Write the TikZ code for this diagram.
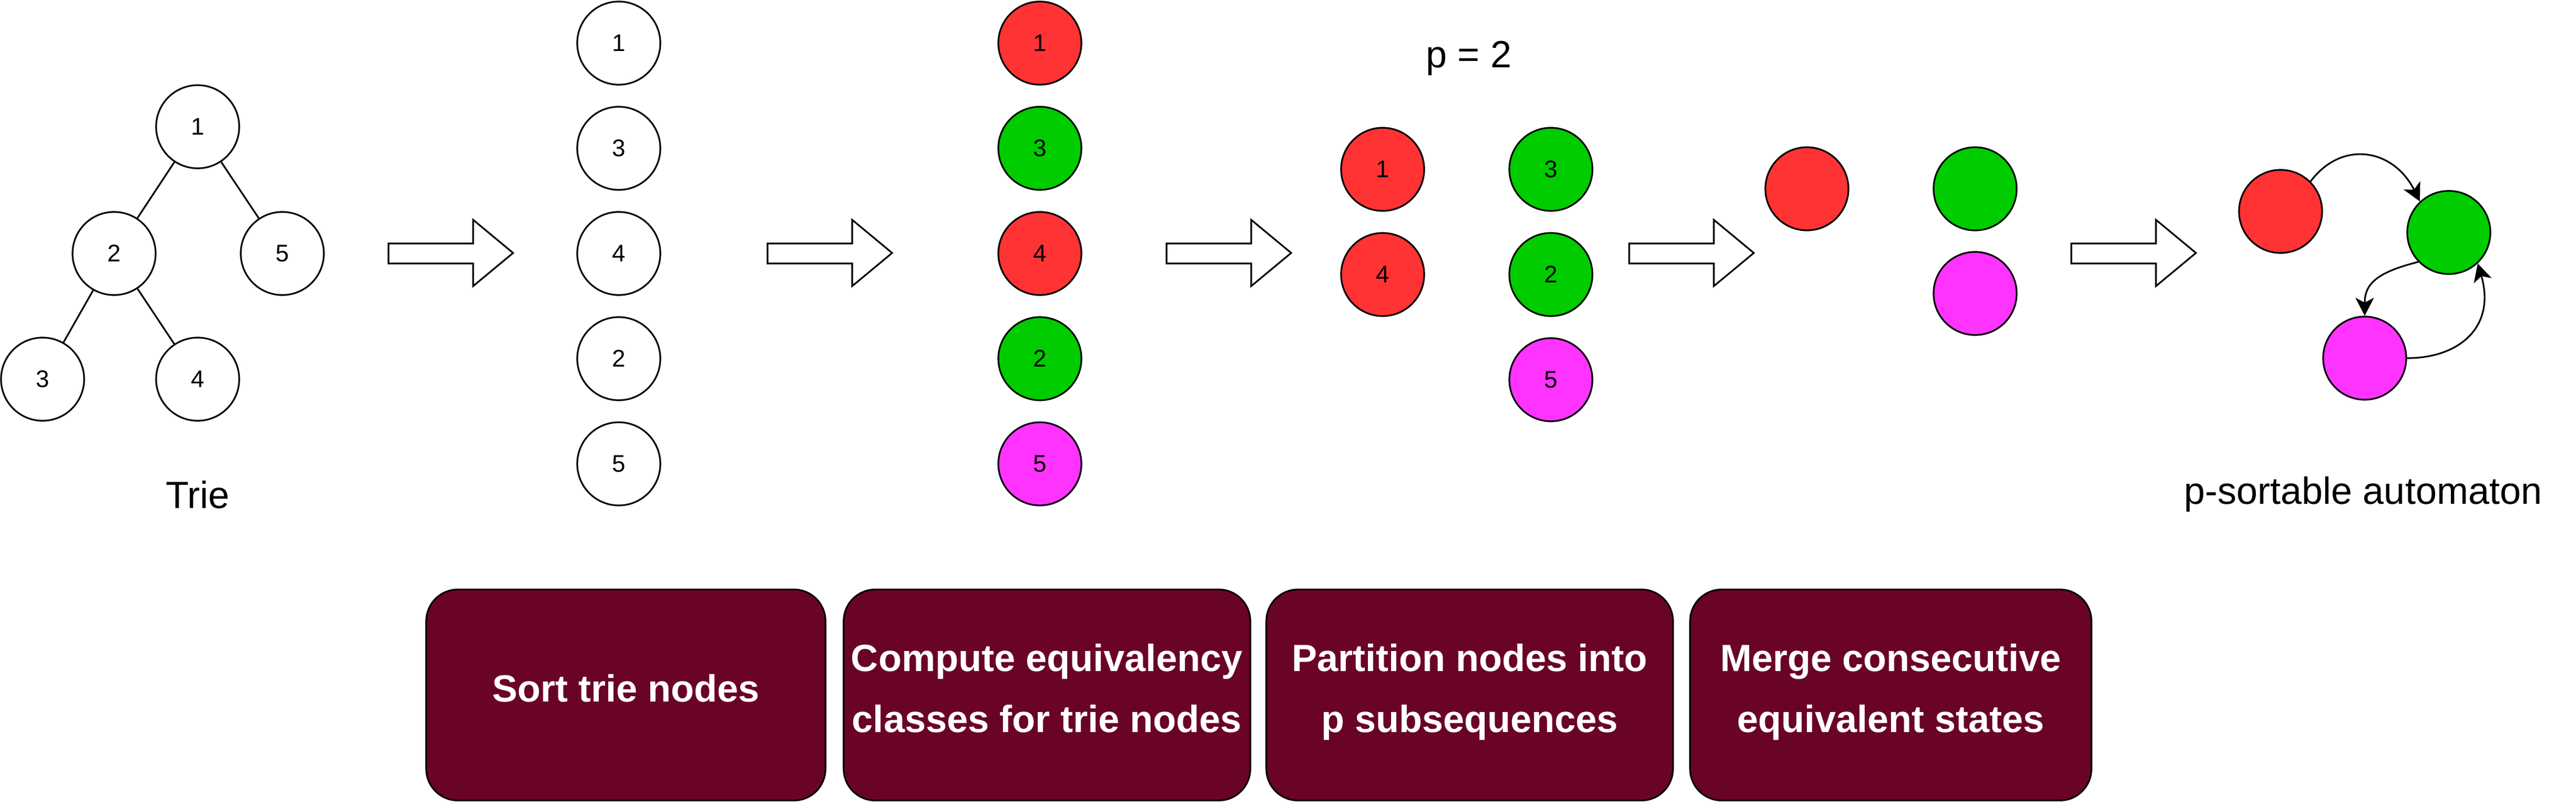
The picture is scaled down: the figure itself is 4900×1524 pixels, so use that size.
\documentclass[tikz,border=0pt]{standalone}
\usepackage{fontspec}
\setmainfont{Liberation Sans}
\usetikzlibrary{arrows.meta}
\definecolor{clsred}{HTML}{FF3333}
\definecolor{clsgreen}{HTML}{00CC00}
\definecolor{clsmag}{HTML}{FF33FF}
\definecolor{stepfill}{RGB}{106,4,38}

\begin{document}
\begin{tikzpicture}[x=0.01cm,y=-0.01cm,line width=0.9pt,
tn/.style={circle,draw,line width=0.9pt,minimum size=1.58cm,inner sep=0pt,font=\fontsize{13}{15}\selectfont},
lbl/.style={font=\fontsize{20.5}{24}\selectfont},
stepbox/.style={draw,fill=stepfill,rounded corners=0.6cm,inner sep=0pt,minimum height=4.01cm,text depth=0.27cm,text=white,align=center,font=\fontsize{20.5}{33}\selectfont\bfseries},
trans/.style={-{Stealth[length=0.34cm,width=0.35cm,inset=0.09cm]},line width=0.9pt}]
\useasboundingbox (0,0) rectangle (4900,1524);
\node[tn] (t1) at (376,241) {1};
\node[tn] (t2) at (217,482) {2};
\node[tn] (t5) at (537,482) {5};
\node[tn] (t3) at (81,721) {3};
\node[tn] (t4) at (376,721) {4};
\draw (t1) -- (t2) (t1) -- (t5) (t2) -- (t3) (t2) -- (t4);
\node[lbl,anchor=base] (trie) at (376,966) {Trie};
\foreach \n [count=\i from 0] in {1,3,4,2,5} {
   \node[tn] (s\n) at (1177,{82+200*\i}) {\n};
}
\foreach \n/\c [count=\i from 0] in %
{1/clsred,3/clsgreen,4/clsred,2/clsgreen,5/clsmag} {
   \node[tn,fill=\c] (e\n) at (1978,{82+200*\i}) {\n};
}
\node[lbl,anchor=base] (pval) at (2794,128) {p = 2};
\node[tn,fill=clsred] (q1) at (2630,322) {1};
\node[tn,fill=clsred] (q4) at (2630,522) {4};
\node[tn,fill=clsgreen] (q3) at (2950,322) {3};
\node[tn,fill=clsgreen] (q2) at (2950,522) {2};
\node[tn,fill=clsmag] (q5) at (2950,722) {5};
\node[tn,fill=clsred] (mr) at (3437,359) {};
\node[tn,fill=clsgreen] (mg) at (3757,359) {};
\node[tn,fill=clsmag] (mm) at (3757,558) {};
\node[tn,fill=clsred] (ar) at (4338,402) {};
\node[tn,fill=clsgreen] (ag) at (4658,442) {};
\node[tn,fill=clsmag] (am) at (4498,681) {};
\draw[trans] (ar.45) .. controls +(60,-80) and +(-50,-100) .. (ag.133);
\draw[trans] (ag.224) .. controls +(-80,20) and +(0,-60) .. (am.north);
\draw[trans] (am.east) .. controls +(100,0) and +(35,120) .. (ag.313);
\node[lbl,anchor=base] (auto) at (4495,958) {p-sortable automaton};
\foreach \x in {739,1460,2219,3099,3940} {
   \draw (\x,463) -- ++(161,0) -- ++(0,-45) -- ++(76,63) -- ++(-76,63) -- ++(0,-43) -- ++(-161,0) -- cycle;
}
\node[stepbox,minimum width=7.59cm] (b1) at (1190.5,1321.5) {Sort trie nodes};
\node[stepbox,minimum width=7.73cm] (b2) at (1991.5,1321.5) {Compute equivalency\\classes for trie nodes};
\node[stepbox,minimum width=7.73cm] (b3) at (2795.5,1321.5) {Partition nodes into\\p subsequences};
\node[stepbox,minimum width=7.63cm] (b4) at (3596.5,1321.5) {Merge consecutive\\equivalent states};
\end{tikzpicture}
\end{document}
